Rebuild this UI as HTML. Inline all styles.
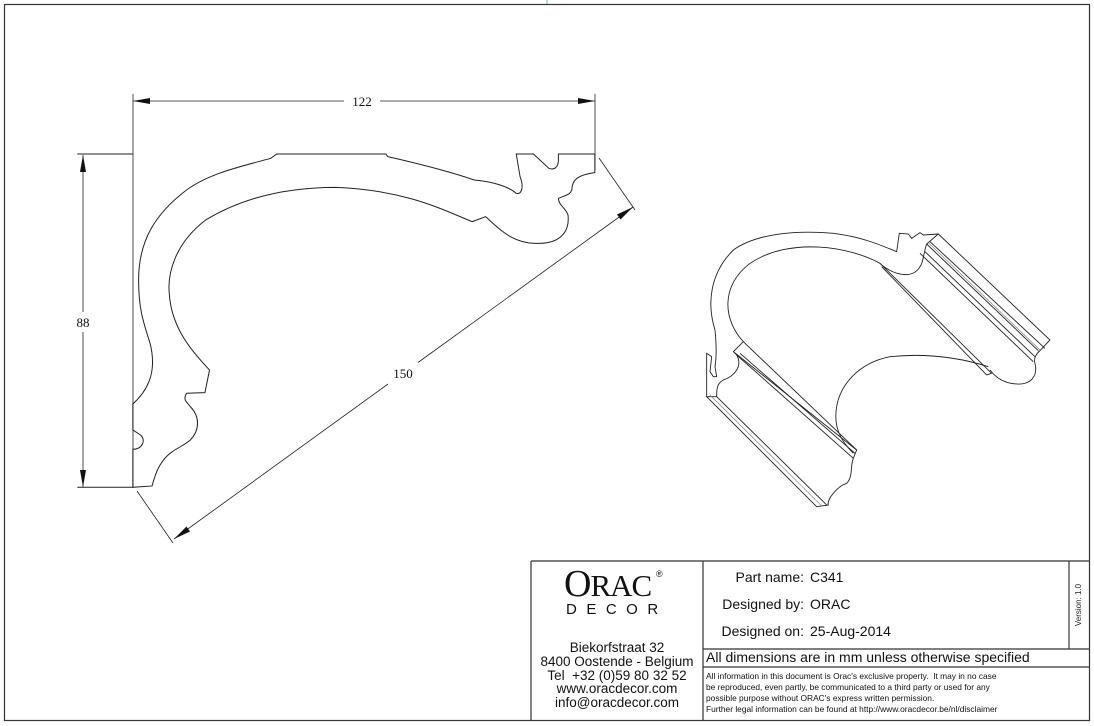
<!DOCTYPE html>
<html><head><meta charset="utf-8"><style>
html,body{margin:0;padding:0;background:#fff;}
body{width:1094px;height:726px;position:relative;overflow:hidden;font-family:"Liberation Sans",sans-serif;}
svg{position:absolute;left:0;top:0;}
.t{position:absolute;white-space:nowrap;color:#111;}
</style></head><body>
<svg width="1094" height="726" viewBox="0 0 1094 726">
<line x1="547" y1="0" x2="547" y2="4" stroke="#7ab8d8" stroke-width="1"/>
<rect x="4.5" y="4.5" width="1085" height="716" fill="none" stroke="#333" stroke-width="1.2"/>
<!-- profile -->
<g transform="translate(60,80) scale(0.3834,0.3333)" fill="none" stroke="#222" stroke-width="1" vector-effect="non-scaling-stroke">
<path vector-effect="non-scaling-stroke" d="M190,1222 L190,1108 C215,1108 225,1080 210,1065 L190,1050 L190,972 C240,920 250,860 235,790 C215,720 205,680 205,600 C205,480 250,400 330,330 C390,280 470,260 550,235 L565,222 L850,222 L855,230 C950,255 1030,280 1080,300 C1130,305 1170,320 1190,340 C1205,345 1210,320 1200,290 L1190,222 L1235,222 L1275,265 C1290,272 1300,260 1300,240 L1300,222 L1395,222 L1395,278 C1350,285 1335,300 1335,330 C1330,345 1320,345 1300,355 C1300,375 1320,385 1325,405 C1330,460 1300,490 1250,490 C1180,495 1140,440 1110,410 L1075,425 C1000,390 900,330 720,322 C600,322 480,350 380,420 C300,490 280,580 285,640 C290,740 340,810 390,870 L378,938 L330,940 C320,960 330,965 340,980 C365,1010 365,1050 340,1080 C320,1100 290,1110 270,1140 C250,1170 245,1200 240,1218 Z"/>
<path vector-effect="non-scaling-stroke" d="M45,222 L190,222 M45,1222 L190,1222"/>
</g>
<g stroke="#222" stroke-width="0.8" fill="none">
<line x1="133" y1="94" x2="133" y2="487"/>
<line x1="595" y1="94" x2="595" y2="170"/>
<line x1="133" y1="101" x2="344" y2="101"/>
<line x1="380" y1="101" x2="595" y2="101"/>
<line x1="83" y1="155" x2="83" y2="312"/>
<line x1="83" y1="332" x2="83" y2="487"/>
<line x1="633" y1="207" x2="418" y2="362.5"/>
<line x1="388" y1="384" x2="174" y2="539"/>
<line x1="599" y1="158" x2="635" y2="210"/>
<line x1="137" y1="491" x2="173" y2="543"/>
</g>
<g fill="#111">
<polygon points="133,101 150,98 150,104"/>
<polygon points="595,101 578,98 578,104"/>
<polygon points="83,155 80,172 86,172"/>
<polygon points="83,487 80,470 86,470"/>
<polygon points="633,207 617,214.5 620.5,219.5"/>
<polygon points="174,539 190,531.5 186.5,526.5"/>
</g>
<g font-family="Liberation Serif,serif" font-size="13" fill="#111" text-anchor="middle">
<text x="362" y="106">122</text>
<text x="83" y="327">88</text>
<text x="403" y="378">150</text>
</g>
<!-- isometric -->
<g transform="translate(690,220) scale(0.3333)" fill="none" stroke="#222">
<path vector-effect="non-scaling-stroke" stroke-width="0.9" d="M50,530 L50,400 L65,410 L60,455 L70,470 L80,470 L75,440 C80,410 80,380 75,330 C50,250 60,160 130,90 C200,40 320,30 430,40 C510,50 560,70 620,95 L628,40 L655,42 L665,55 L690,38 L700,45 L745,42 L1080,360 L1050,392 C1040,400 1030,415 1035,430"/>
<path vector-effect="non-scaling-stroke" stroke-width="0.9" d="M745,42 L710,72 C700,100 700,130 690,140 C670,175 620,170 575,135 L570,130 C480,80 300,50 180,130 C90,200 100,300 160,365 L130,395 L140,405 C160,440 130,470 100,480 C80,490 80,510 80,530 L50,530 L380,860 L415,855 C410,840 440,800 470,790 C490,770 480,740 490,715 L500,690 L130,395"/>
<path vector-effect="non-scaling-stroke" stroke-width="0.9" d="M80,530 L410,855 M140,405 L490,715 M150,400 L495,700 M160,365 L500,690 M710,72 L1045,392 M705,95 L1035,410 M690,100 L1030,425 M720,65 L1065,385 M570,130 L905,460 M575,140 L890,465 M905,460 L890,465"/>
<path vector-effect="non-scaling-stroke" stroke-width="0.9" d="M895,440 C800,410 700,400 600,410 C500,430 450,500 440,560 C430,620 450,660 490,700 M1035,430 C1045,470 1020,495 980,492 C940,490 915,470 900,450"/>
<path vector-effect="non-scaling-stroke" stroke-width="0.6" stroke="#777" d="M60,525 L395,858 M1050,390 L715,68"/>
</g>
<!-- title block -->
<g stroke="#333" stroke-width="1.2" fill="none">
<line x1="531" y1="561" x2="1089" y2="561"/>
<line x1="531" y1="561" x2="531" y2="721"/>
<line x1="703" y1="561" x2="703" y2="721"/>
<line x1="1069" y1="561" x2="1069" y2="649"/>
<line x1="703" y1="649" x2="1089" y2="649"/>
<line x1="703" y1="667" x2="1089" y2="667"/>
</g>
<text x="1081" y="605" transform="rotate(-90 1081 605)" font-family="Liberation Sans,sans-serif" font-size="8" fill="#222" text-anchor="middle">Version: 1.0</text>
</svg>
<div class="t" style="left:564px;top:564px;font-family:'Liberation Serif',serif;font-size:38px;line-height:40px;letter-spacing:-1px;">O<span style="font-size:31px">RAC</span></div>
<div class="t" style="left:656px;top:569px;font-size:9px;">®</div>
<div class="t" style="left:566px;top:602px;font-size:15px;letter-spacing:9.5px;line-height:16px;">DECOR</div>
<div class="t" style="left:531px;width:172px;top:641px;text-align:center;font-size:13.5px;line-height:13.8px;">Biekorfstraat 32<br>8400 Oostende - Belgium<br>Tel&nbsp; +32 (0)59 80 32 52<br>www.oracdecor.com<br>info@oracdecor.com</div>
<div class="t" style="left:703px;width:101px;top:564px;text-align:right;font-size:14px;line-height:27px;">Part name:<br>Designed by:<br>Designed on:</div>
<div class="t" style="left:810px;top:564px;font-size:14px;line-height:27px;">C341<br>ORAC<br>25-Aug-2014</div>
<div class="t" style="left:706px;top:649px;font-size:14px;line-height:17px;">All dimensions are in mm unless otherwise specified</div>
<div class="t" style="left:706px;top:671px;font-size:8.4px;line-height:11px;">All information in this document is Orac's exclusive property.&nbsp; It may in no case<br>be reproduced, even partly, be communicated to a third party or used for any<br>possible purpose without ORAC's express written permission.<br>Further legal information can be found at http://www.oracdecor.be/nl/disclaimer</div>
</body></html>
